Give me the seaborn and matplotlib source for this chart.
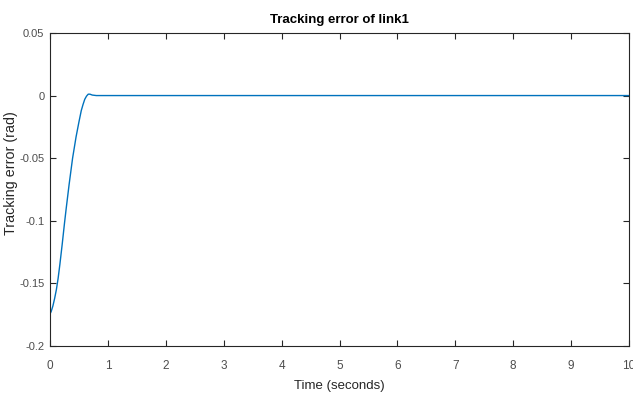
import matplotlib
matplotlib.use("Agg")
import matplotlib.pyplot as plt
import seaborn as sns

# tracking error of link1
time_s = [0.0, 0.02, 0.05, 0.08, 0.11, 0.14, 0.17, 0.21, 0.25, 0.28,
          0.33, 0.39, 0.45, 0.50, 0.54, 0.57, 0.60, 0.63, 0.66, 0.69,
          0.73, 0.80, 1.0, 10.0]
error_rad = [-0.1744, -0.1725, -0.168, -0.162, -0.155, -0.146, -0.135,
             -0.119, -0.102, -0.090, -0.071, -0.050, -0.033, -0.021,
             -0.012, -0.0072, -0.003, -0.0005, 0.0011, 0.0011, 0.0004,
             0.0, 0.0, 0.0]

x_ticks = [0, 1, 2, 3, 4, 5, 6, 7, 8, 9, 10]
y_ticks = [-0.2, -0.15, -0.1, -0.05, 0, 0.05]
y_tick_labels = ["-0.2", "-0.15", "-0.1", "-0.05", "0", "0.05"]

sns.set_theme(style="white")
plt.rcParams['font.family'] = ['Liberation Sans', 'DejaVu Sans']

axis_col = "#262626"
tick_col = "#4d4d4d"

fig = plt.figure(figsize=(6.33, 3.97), dpi=100)
ax = fig.add_axes([0.079, 0.1285, 0.9147, 0.7885])

sns.lineplot(x=time_s, y=error_rad, ax=ax, color="#0072BD", linewidth=1.0)

ax.set_xlim(0, 10)
ax.set_ylim(-0.2, 0.05)
ax.set_xticks(x_ticks)
ax.set_xticklabels([str(v) for v in x_ticks])
ax.set_yticks(y_ticks)
ax.set_yticklabels(y_tick_labels)

ax.tick_params(direction="in", length=4, width=0.8, color=axis_col,
               labelcolor=tick_col, labelsize=8, top=True, right=True,
               bottom=True, left=True, pad=4)
ax.tick_params(axis="x", labelsize=8.5, pad=10)
for side in ax.spines.values():
    side.set_color(axis_col)
    side.set_linewidth(0.8)
    side.set_visible(True)

ax.set_title("Tracking error of link1", fontsize=9.5, fontweight="bold",
             color="black", pad=7)
ax.set_xlabel("Time (seconds)", fontsize=9.5, color=axis_col, labelpad=6)
ax.set_ylabel("Tracking error (rad)", fontsize=10.3, color=axis_col)
ax.yaxis.set_label_coords(-0.055, 0.553)

fig.savefig("out.png", dpi=100)
